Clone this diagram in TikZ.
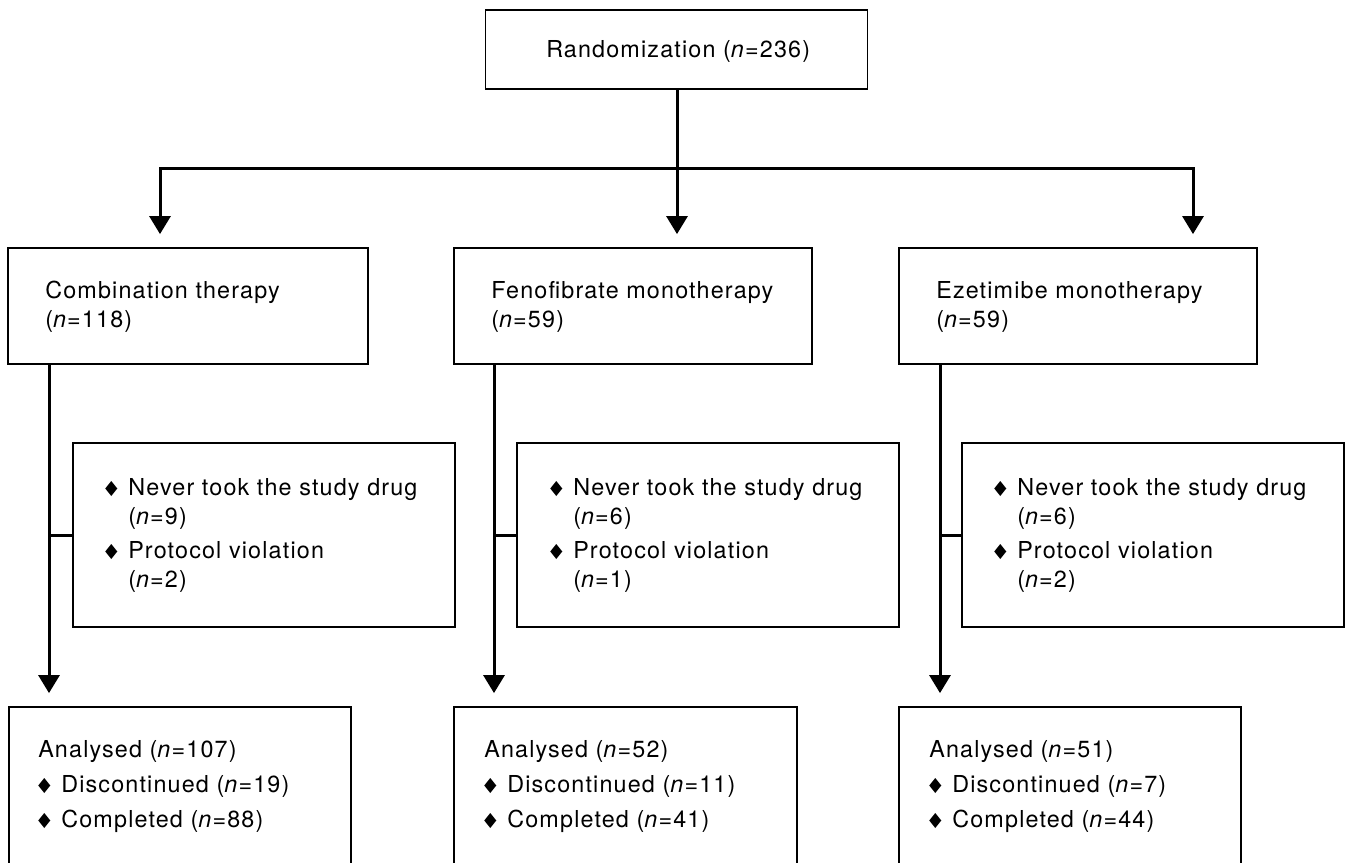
\documentclass[tikz,border=0pt]{standalone}
\usepackage{fontspec}
\usepackage{graphicx}
\setmainfont{TeX Gyre Heros}[LetterSpace=5]
\usetikzlibrary{arrows.meta}
\newcommand{\dm}{\makebox[17.25pt][l]{\raisebox{-0.75pt}{\scalebox{0.8}[1]{\rotatebox{45}{\rule{7.95pt}{7.95pt}}}}}}
\begin{document}
\begin{tikzpicture}[x=0.75pt,y=-0.75pt,
  box/.style={draw, line width=1.35pt, rectangle, inner sep=0pt},
  conn/.style={line width=2.25pt},
  arr/.style={conn, -{Triangle[width=15.75pt,length=13.5pt]}, shorten >=9.75pt},
  txt/.style={inner sep=0pt, anchor=base west, font=\fontsize{17.5pt}{21pt}\selectfont},
  extxt/.style={txt, font=\fontsize{17.5pt}{21.75pt}\selectfont}]
\useasboundingbox (0,0) rectangle (1347,863);
\clip (0,0) rectangle (1347,863);
% boxes
\node[box, minimum width=382*0.75pt, minimum height=79*0.75pt] (rand) at (676.5,49.5) {};
\node[box, minimum width=360*0.75pt, minimum height=116*0.75pt] (combo) at (188,306) {};
\node[box, minimum width=358*0.75pt, minimum height=116*0.75pt] (fen) at (633,306) {};
\node[box, minimum width=358*0.75pt, minimum height=116*0.75pt] (eze) at (1078,306) {};
\node[box, minimum width=382*0.75pt, minimum height=184*0.75pt] (ex1) at (264,535) {};
\node[box, minimum width=382*0.75pt, minimum height=184*0.75pt] (ex2) at (708,535) {};
\node[box, minimum width=382*0.75pt, minimum height=184*0.75pt] (ex3) at (1153,535) {};
\node[box, minimum width=342*0.75pt, minimum height=160*0.75pt] (an1) at (180,787) {};
\node[box, minimum width=343*0.75pt, minimum height=160*0.75pt] (an2) at (625.5,787) {};
\node[box, minimum width=342*0.75pt, minimum height=160*0.75pt] (an3) at (1070,787) {};
% texts
\node[txt] (rand-t) at (546,58) {Randomization (\textit{n}=236)};
\node[txt] (combo-t) at (45,299) {\begin{tabular}[t]{@{}l@{}}Combination therapy\\(\textit{n}=118)\end{tabular}};
\node[txt] (fen-t) at (491,299) {\begin{tabular}[t]{@{}l@{}}Fenofibrate monotherapy\\(\textit{n}=59)\end{tabular}};
\node[txt] (eze-t) at (936,299) {\begin{tabular}[t]{@{}l@{}}Ezetimibe monotherapy\\(\textit{n}=59)\end{tabular}};
\node[extxt] (ex1-t) at (105,495) {\begin{tabular}[t]{@{}l@{}l@{}}\dm&Never took the study drug\\&(\textit{n}=9)\\[3.75pt]\dm&Protocol violation\\&(\textit{n}=2)\end{tabular}};
\node[extxt] (ex2-t) at (550,495) {\begin{tabular}[t]{@{}l@{}l@{}}\dm&Never took the study drug\\&(\textit{n}=6)\\[3.75pt]\dm&Protocol violation\\&(\textit{n}=1)\end{tabular}};
\node[extxt] (ex3-t) at (994,495) {\begin{tabular}[t]{@{}l@{}l@{}}\dm&Never took the study drug\\&(\textit{n}=6)\\[3.75pt]\dm&Protocol violation\\&(\textit{n}=2)\end{tabular}};
\node[txt] (an1-t) at (38,757) {\begin{tabular}[t]{@{}l@{}l@{}}\multicolumn{2}{@{}l@{}}{Analysed (\textit{n}=107)}\\[5.25pt]\dm&Discontinued (\textit{n}=19)\\[5.25pt]\dm&Completed (\textit{n}=88)\end{tabular}};
\node[txt] (an2-t) at (484,757) {\begin{tabular}[t]{@{}l@{}l@{}}\multicolumn{2}{@{}l@{}}{Analysed (\textit{n}=52)}\\[5.25pt]\dm&Discontinued (\textit{n}=11)\\[5.25pt]\dm&Completed (\textit{n}=41)\end{tabular}};
\node[txt] (an3-t) at (929,757) {\begin{tabular}[t]{@{}l@{}l@{}}\multicolumn{2}{@{}l@{}}{Analysed (\textit{n}=51)}\\[5.25pt]\dm&Discontinued (\textit{n}=7)\\[5.25pt]\dm&Completed (\textit{n}=44)\end{tabular}};
% connectors
\coordinate (split) at (677,169);
\coordinate (sL) at (160,169);
\coordinate (sR) at (1193,169);
\draw[conn] (split |- rand.south) -- (split);
\draw[arr] (split) -| (sL |- combo.north);
\draw[arr] (split) -| (sR |- eze.north);
\draw[arr] (split) -- (split |- fen.north);
\coordinate (v1) at (49,0);
\coordinate (v2) at (494,0);
\coordinate (v3) at (940,0);
\draw[arr] (v1 |- combo.south) -- (v1 |- an1.north);
\draw[arr] (v2 |- fen.south) -- (v2 |- an2.north);
\draw[arr] (v3 |- eze.south) -- (v3 |- an3.north);
\draw[conn] (v1 |- ex1.west) -- (ex1.west);
\draw[conn] (v2 |- ex2.west) -- (ex2.west);
\draw[conn] (v3 |- ex3.west) -- (ex3.west);
\end{tikzpicture}
\end{document}
